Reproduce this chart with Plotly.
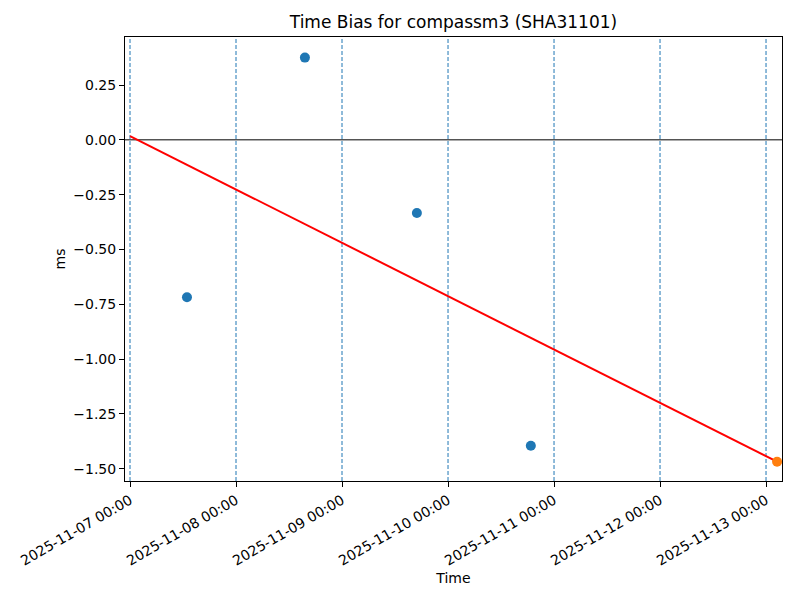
import plotly.graph_objects as go

# Data
obs_times = ["2025-11-07 12:54", "2025-11-08 15:36", "2025-11-09 16:57", "2025-11-10 18:45"]
obs_values = [-0.718, 0.375, -0.334, -1.395]
pred_times = ["2025-11-13 02:30"]
pred_values = [-1.468]
trend_times = ["2025-11-07 00:00", "2025-11-13 02:30"]
trend_values = [0.017, -1.468]
day_ticks = ["2025-11-07", "2025-11-08", "2025-11-09", "2025-11-10",
             "2025-11-11", "2025-11-12", "2025-11-13"]
y_ticks = [0.25, 0.0, -0.25, -0.5, -0.75, -1.0, -1.25, -1.5]

font = "DejaVu Sans"
fig = go.Figure()

fig.add_trace(go.Scatter(x=trend_times, y=trend_values, mode="lines",
                         line=dict(color="#ff0000", width=2), showlegend=False))
fig.add_trace(go.Scatter(x=obs_times, y=obs_values, mode="markers",
                         marker=dict(color="#1f77b4", size=10), showlegend=False))
fig.add_trace(go.Scatter(x=pred_times, y=pred_values, mode="markers",
                         marker=dict(color="#ff7f0e", size=10), showlegend=False, cliponaxis=False))

shapes = []
for d in day_ticks:
    shapes.append(dict(type="line", xref="x", yref="paper", x0=d, x1=d, y0=0, y1=1,
                       line=dict(color="#1f77b4", width=1, dash="4px,2px"), layer="below"))
shapes.append(dict(type="line", xref="paper", yref="y", x0=0, x1=1, y0=0, y1=0,
                   line=dict(color="black", width=1), layer="below"))

fig.update_layout(
    width=800, height=600,
    margin=dict(l=125, r=18, t=37, b=119, autoexpand=False),
    paper_bgcolor="white", plot_bgcolor="white",
    font=dict(family=font, size=14, color="black"),
    title=dict(text="Time Bias for compassm3 (SHA31101)", x=0.5, xref="paper",
               y=1 - 22 / 600, yanchor="middle", font=dict(size=17, family=font)),
    shapes=shapes,
    showlegend=False,
)
fig.update_xaxes(
    range=["2025-11-06 22:52", "2025-11-13 03:37"],
    tickvals=day_ticks, tickformat="%Y-%m-%d %H:%M", tickangle=-30,
    showgrid=False, zeroline=False, automargin=False,
    showline=True, mirror=True, linecolor="black", linewidth=1,
    ticks="outside", ticklen=5, tickcolor="black",
    title=dict(text="Time", font=dict(size=14), standoff=5),
)
fig.update_yaxes(
    range=[-1.556, 0.469],
    tickvals=y_ticks, tickformat=".2f",
    showgrid=False, zeroline=False, automargin=False,
    showline=True, mirror=True, linecolor="black", linewidth=1,
    ticks="outside", ticklen=5, tickcolor="black",
    title=dict(text="ms", font=dict(size=14), standoff=4),
)

fig.write_html("out.html", config={"displayModeBar": False},
               post_script="document.body.style.margin='0';")
